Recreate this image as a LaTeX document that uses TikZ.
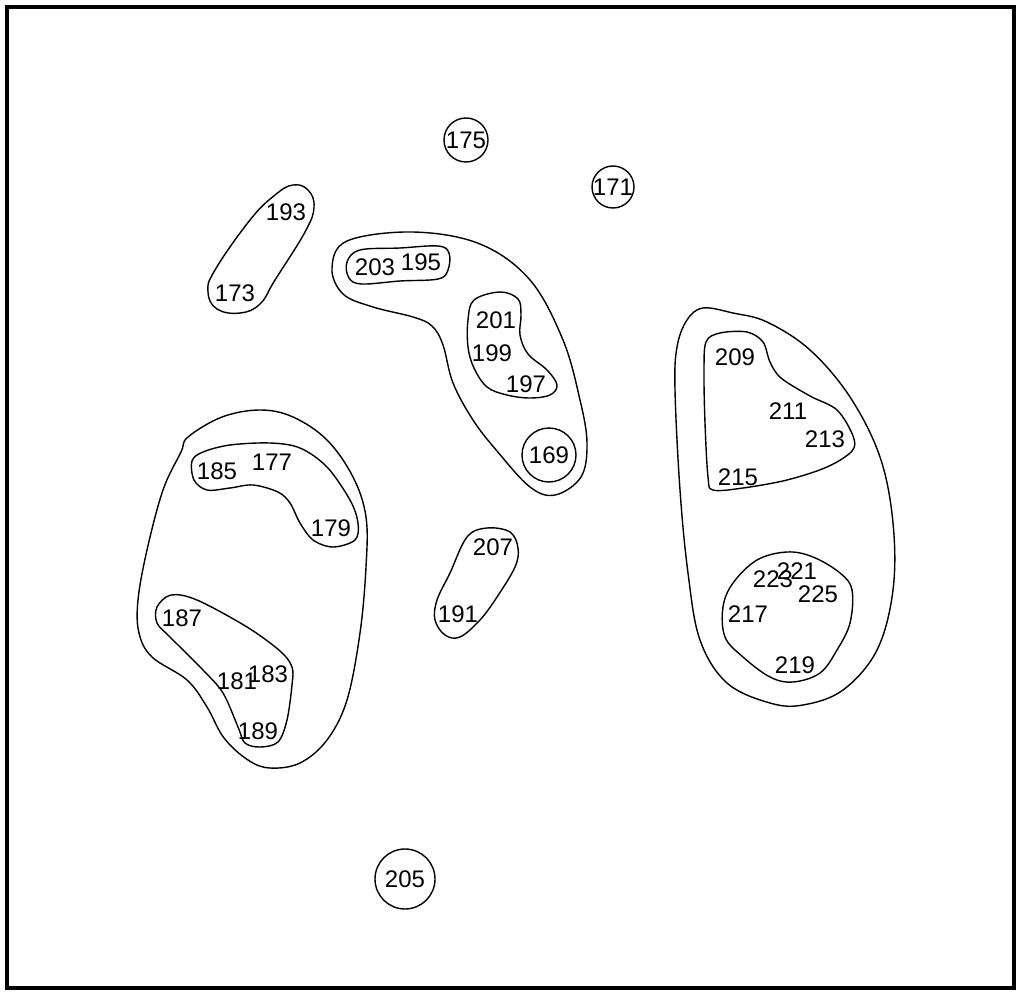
\documentclass[tikz,border=0pt]{standalone}
\usepackage{fontspec}
\setmainfont{Liberation Sans}
\begin{document}
\begin{tikzpicture}[x=1pt,y=-1pt,
  lbl/.style={inner sep=0pt,font=\fontsize{24}{24}\selectfont},
  hull/.style={draw=black,line width=1.4pt},
  ring/.style={draw=black,line width=1.4pt}]
\useasboundingbox (0,0) rectangle (1019,992);
\draw[line width=4pt] (6.5,7.5) rectangle (1013.5,987.5);

% single circles
\node[lbl] (n175) at (466,140) {175};
\draw[ring] (n175.center) circle[radius=22pt];
\node[lbl] (n171) at (613,187) {171};
\draw[ring] (n171.center) circle[radius=21pt];
\node[lbl] (n205) at (405,879) {205};
\draw[ring] (n205.center) circle[radius=30pt];

% 193 / 173
\node[lbl] (n193) at (286,212) {193};
\node[lbl] (n173) at (235,293) {173};
\draw[hull] plot[smooth cycle,tension=0.7] coordinates {
 (275,195) (293,185) (308,190) (314,207) (305,232) (275,280) (260,304) (240,313) (217,309) (208,292) (215,270) (250,220)};

% 203 195 inner capsule
\node[lbl] (n203) at (375,267) {203};
\node[lbl] (n195) at (421,262) {195};
\draw[hull] plot[smooth cycle,tension=0.6] coordinates {
 (360,250) (400,248) (438,246) (449,253) (448,270) (438,279) (400,281) (362,284) (349,278) (347,262)};

% outer hull 195..169
\draw[hull] plot[smooth cycle,tension=0.6] coordinates {
 (332,268) (347,241) (413,232) (480,244) (530,280) (563,340) (580,400) (587,443) (581,477) (555,495) (530,487) (497,451) (473,420) (453,383) (443,345) (432,326) (413,317) (373,307) (343,294)};

% inner 201 199 197
\node[lbl] (n201) at (496,320) {201};
\node[lbl] (n199) at (492,353) {199};
\node[lbl] (n197) at (526,384) {197};
\draw[hull] plot[smooth cycle,tension=0.6] coordinates {
 (474,300) (500,292) (518,299) (521,315) (520,335) (528,354) (547,370) (557,385) (550,395) (530,398) (507,395) (487,387) (474,368) (468,347) (468,320)};

% 169
\node[lbl] (n169) at (549,455) {169};
\draw[ring] (n169.center) circle[radius=27pt];

% left outer hull
\draw[hull] plot[smooth cycle,tension=0.6] coordinates {
 (260,410) (222,417) (188,437) (181,452) (163,490) (147,550) (138,600) (139,633) (152,657) (187,680) (207,707) (224,738) (248,760) (270,768) (300,763) (327,740) (347,700) (360,633) (366,567) (366,517) (353,477) (327,440) (293,417)};

% inner top 185 177 179
\node[lbl] (n185) at (217,471) {185};
\node[lbl] (n177) at (272,462) {177};
\node[lbl] (n179) at (331,528) {179};
\draw[hull] plot[smooth cycle,tension=0.55] coordinates {
 (192,461) (203,452) (230,445) (270,443) (300,448) (327,467) (350,500) (358,523) (355,540) (333,547) (313,540) (300,523) (290,503) (278,492) (253,485) (230,488) (207,490) (194,480)};

% inner bottom 187 181 183 189
\node[lbl] (n187) at (182,618) {187};
\node[lbl] (n181) at (237,681) {181};
\node[lbl] (n183) at (268,674) {183};
\node[lbl] (n189) at (258,731) {189};
\draw[hull] plot[smooth cycle,tension=0.55] coordinates {
 (157,607) (171,595) (197,600) (247,627) (280,651) (292,667) (292,685) (287,720) (278,742) (260,747) (245,743) (238,727) (223,693) (203,670) (170,637) (157,623)};

% 207 / 191
\node[lbl] (n207) at (493,547) {207};
\node[lbl] (n191) at (458,614) {191};
\draw[hull] plot[smooth cycle,tension=0.6] coordinates {
 (467,537) (487,528) (510,532) (518,548) (515,567) (497,597) (480,620) (460,637) (445,635) (435,620) (437,600) (450,573)};

% right outer hull
\draw[hull] plot[smooth cycle,tension=0.6] coordinates {
 (703,308) (687,320) (677,347) (675,390) (680,490) (688,573) (700,640) (727,683) (770,703) (803,705) (843,690) (877,650) (893,590) (893,523) (880,457) (850,397) (810,350) (767,322) (733,313)};

% inner top right 209 211 213 215
\node[lbl] (n209) at (735,357) {209};
\node[lbl] (n211) at (788,411) {211};
\node[lbl] (n213) at (825,439) {213};
\node[lbl] (n215) at (738,477) {215};
\draw[hull] plot[smooth cycle,tension=0.55] coordinates {
 (706,342) (720,333) (747,332) (763,342) (770,362) (781,378) (810,396) (837,410) (853,436) (852,451) (827,467) (787,480) (743,488) (713,490) (708,477) (705,423) (704,373)};

% inner bottom right 223 221 225 217 219
\node[lbl] (n221) at (797,571) {221};
\node[lbl] (n223) at (773,579) {223};
\node[lbl] (n225) at (818,594) {225};
\node[lbl] (n217) at (748,614) {217};
\node[lbl] (n219) at (795,665) {219};
\draw[hull] plot[smooth cycle,tension=0.6] coordinates {
 (757,560) (787,552) (813,557) (840,573) (852,590) (850,623) (837,650) (820,673) (793,682) (770,677) (743,657) (725,637) (723,607) (733,583)};
\end{tikzpicture}
\end{document}
